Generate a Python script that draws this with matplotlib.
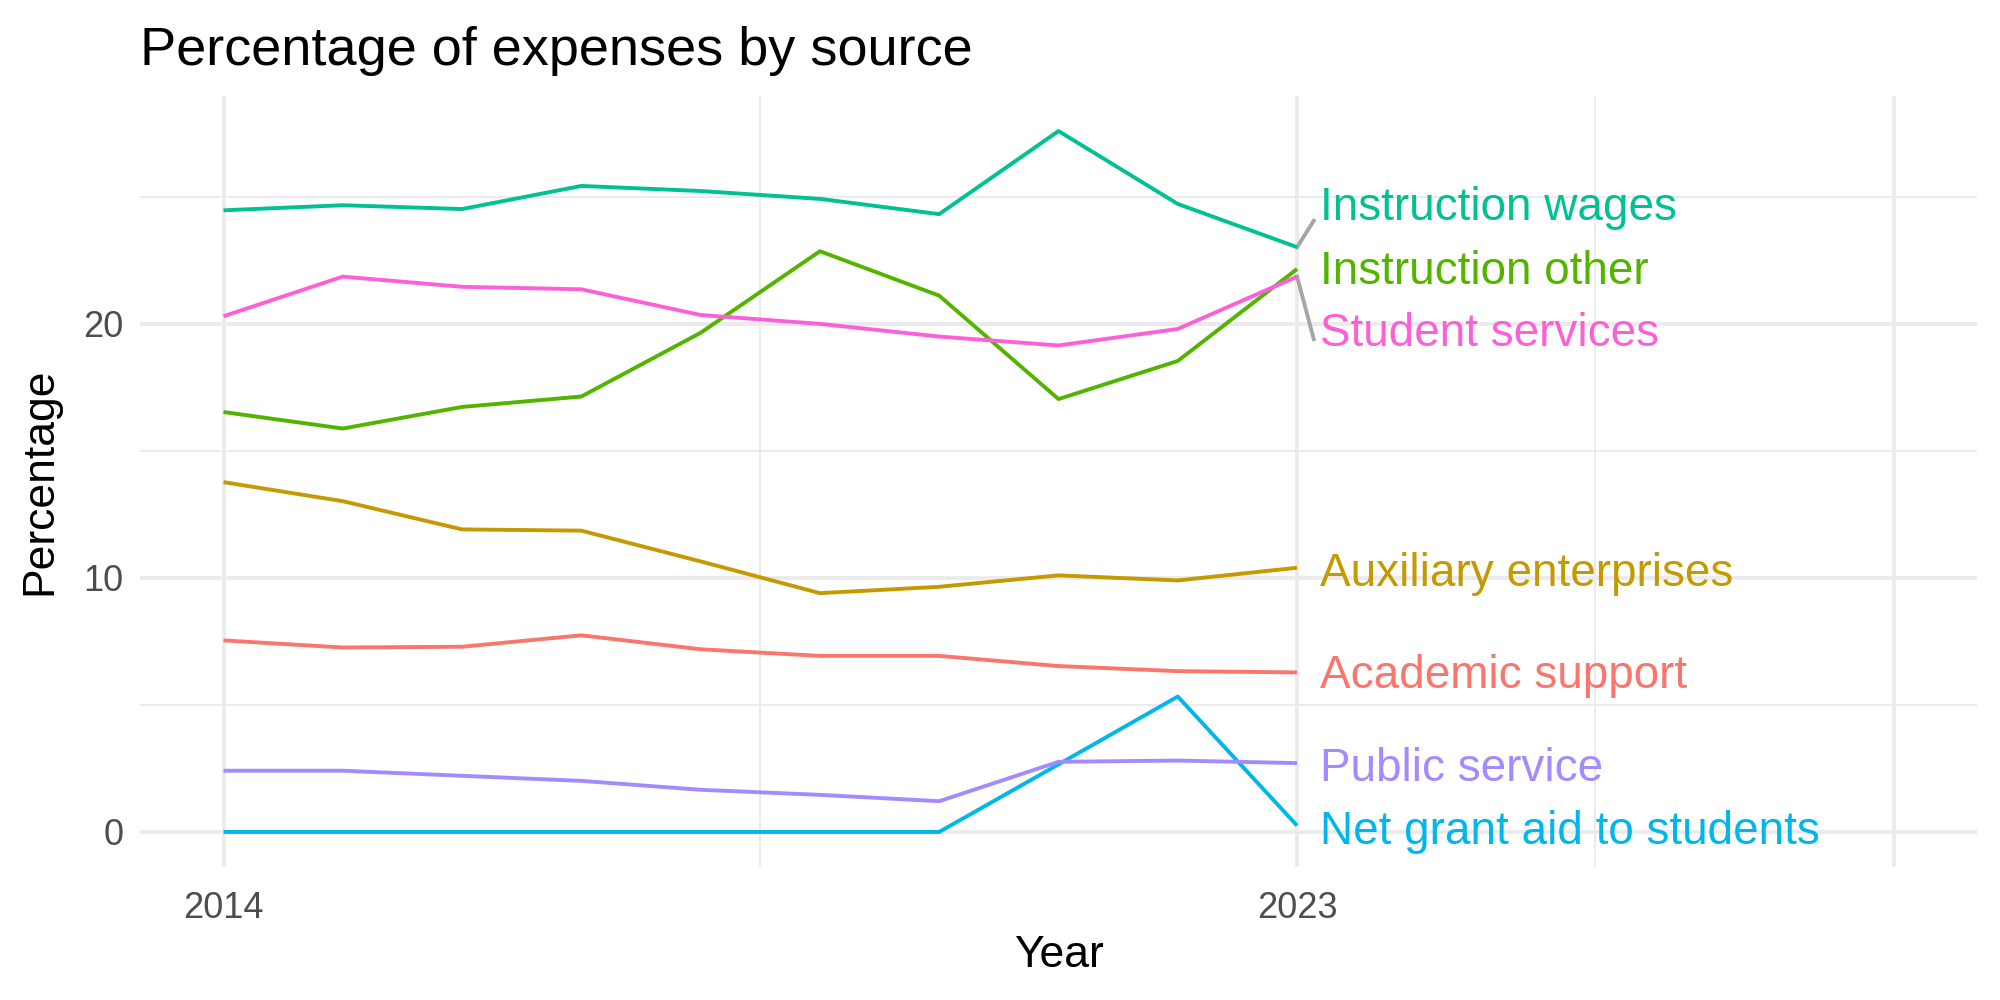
import matplotlib
matplotlib.use("Agg")
import matplotlib.pyplot as plt
from matplotlib.ticker import FixedLocator

plt.rcParams['font.family'] = ['Liberation Sans', 'DejaVu Sans']

years = [2014, 2015, 2016, 2017, 2018, 2019, 2020, 2021, 2022, 2023]

series_names = ["Academic support", "Auxiliary enterprises", "Instruction other",
                "Instruction wages", "Net grant aid to students", "Public service",
                "Student services"]
colors = ["#F8766D", "#C49A00", "#53B400", "#00C094", "#00B6EB", "#A58AFF", "#FB61D7"]

academic_support = [7.54, 7.26, 7.29, 7.74, 7.19, 6.93, 6.93, 6.53, 6.33, 6.28]
auxiliary_enterprises = [13.77, 13.02, 11.91, 11.86, 10.65, 9.40, 9.65, 10.10, 9.90, 10.40]
instruction_other = [16.53, 15.88, 16.73, 17.14, 19.65, 22.86, 21.11, 17.04, 18.54, 22.16]
instruction_wages = [24.47, 24.67, 24.52, 25.43, 25.23, 24.92, 24.32, 27.59, 24.72, 23.02]
net_grant_aid = [0, 0, 0, 0, 0, 0, 0, 2.66, 5.33, 0.25]
public_service = [2.41, 2.41, 2.21, 2.01, 1.66, 1.46, 1.21, 2.76, 2.81, 2.71]
student_services = [20.30, 21.86, 21.46, 21.36, 20.35, 20.00, 19.50, 19.15, 19.80, 21.86]

values = [academic_support, auxiliary_enterprises, instruction_other, instruction_wages,
          net_grant_aid, public_service, student_services]

# repelled label positions (x, y)
label_x = 2023.19
label_y = [6.12, 10.17, 22.06, 24.58, -0.02, 2.49, 19.62]
segment_end = {3: (2023.14, 24.06), 6: (2023.14, 19.40)}

fig = plt.figure(figsize=(10, 5), dpi=200)
ax = fig.add_axes([0.07, 0.133, 0.9185, 0.771])

ax.set_xlim(2013.3, 2028.7)
ax.set_ylim(-1.38, 28.97)

for s in ax.spines.values():
    s.set_visible(False)

ax.xaxis.set_major_locator(FixedLocator([2014, 2023, 2028]))
ax.xaxis.set_minor_locator(FixedLocator([2018.5, 2025.5]))
ax.yaxis.set_major_locator(FixedLocator([0, 10, 20]))
ax.yaxis.set_minor_locator(FixedLocator([5, 15, 25]))
ax.set_xticklabels(["2014", "2023", ""])
ax.grid(which='major', color='#EBEBEB', lw=1.4)
ax.grid(which='minor', color='#EBEBEB', lw=0.7)
ax.set_axisbelow(True)
ax.tick_params(which='both', length=0)
ax.tick_params(axis='both', labelsize=13, labelcolor='#4D4D4D')
ax.tick_params(axis='x', pad=8.5)
ax.tick_params(axis='y', pad=6)

for name, col, vals in zip(series_names, colors, values):
    ax.plot(years, vals, color=col, lw=1.4, solid_capstyle='butt', zorder=3)

for i, (name, col, vals) in enumerate(zip(series_names, colors, values)):
    if i in segment_end:
        ex, ey = segment_end[i]
        ax.plot([years[-1], ex], [vals[-1], ey], color='#A6A6A6', lw=1.4, zorder=2)
    ax.text(label_x, label_y[i], name, color=col, fontsize=16.5, va='center', ha='left')

ax.set_xlabel("Year", fontsize=16, labelpad=3.5)
ax.set_ylabel("Percentage", fontsize=16, labelpad=8)
fig.text(0.07, 0.935, "Percentage of expenses by source", fontsize=19.5, ha='left', va='baseline')

fig.savefig("out.png", dpi=200)
